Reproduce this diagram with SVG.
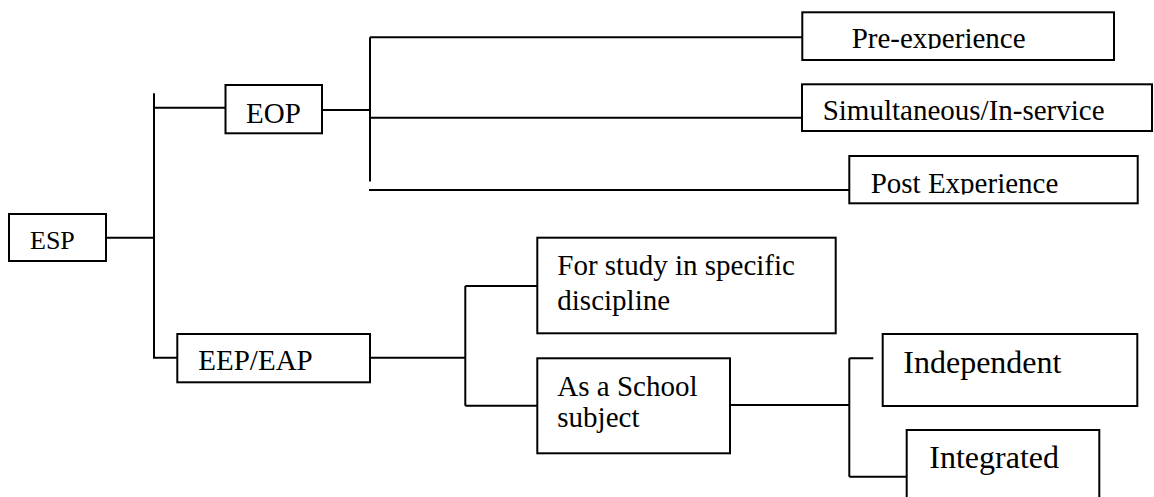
<svg xmlns="http://www.w3.org/2000/svg" width="1154" height="497" viewBox="0 0 1154 497">
<style>
.box{fill:#fff;stroke:#000;stroke-width:2}
.ln{fill:none;stroke:#000;stroke-width:2}
text{font-family:"Liberation Serif","Times New Roman",serif;fill:#000;font-size:29px}
.big{font-size:32px}
.sm{font-size:26px}
</style>
<defs>
<clipPath id="cpPre"><rect x="803" y="13" width="310" height="36"/></clipPath>
<clipPath id="cpPost"><rect x="850" y="157" width="287" height="37.5"/></clipPath>
</defs>
<rect width="1154" height="497" fill="#fff"/>
<g id="connectors">
<path class="ln" d="M106 237.7H154M154 93.3V357.7H177.3M154 107.7H225.5"/>
<path class="ln" d="M322 110H370M370 37.3V181.5M370 37.3H802M370 117.7H802M369 190H849.3"/>
<path class="ln" d="M370 357.7H465.3M465.3 286V405.7M465.3 286H537.3M465.3 405.7H537.3"/>
<path class="ln" d="M730 405H849.3M849.3 358.3V476.7M849.3 358.3H873.3M849.3 476.7H907"/>
</g>
<g id="esp"><rect class="box" x="9" y="214" width="97" height="47"/><text class="sm" x="30" y="249.3">ESP</text></g>
<g id="eop"><rect class="box" x="225.5" y="85" width="96.5" height="48.3"/><text x="246" y="122.7">EOP</text></g>
<g id="pre"><rect class="box" x="802.3" y="12.3" width="311.7" height="47.7"/><text x="851.7" y="48.3" clip-path="url(#cpPre)">Pre-experience</text></g>
<g id="sim"><rect class="box" x="802" y="84.3" width="350" height="46.7"/><text x="822.7" y="120">Simultaneous/In-service</text></g>
<g id="post"><rect class="box" x="849.3" y="156" width="288.4" height="47.3"/><text x="870.7" y="192.7" clip-path="url(#cpPost)">Post Experience</text></g>
<g id="eep"><rect class="box" x="177.3" y="334" width="192.7" height="48.3"/><text x="198.3" y="370">EEP/EAP</text></g>
<g id="study"><rect class="box" x="537.3" y="237.7" width="298.4" height="95.6"/><text x="557.3" y="275">For study in specific</text><text x="557.3" y="310">discipline</text></g>
<g id="school"><rect class="box" x="537.3" y="358.3" width="192.7" height="95"/><text x="557.3" y="395.7">As a School</text><text x="557.3" y="426.7">subject</text></g>
<g id="independent"><rect class="box" x="882.7" y="334" width="254.6" height="72"/><text class="big" x="903.3" y="373.3">Independent</text></g>
<g id="integrated"><rect class="box" x="906.7" y="430" width="192.6" height="90"/><text class="big" x="929.3" y="468.3">Integrated</text></g>
</svg>
